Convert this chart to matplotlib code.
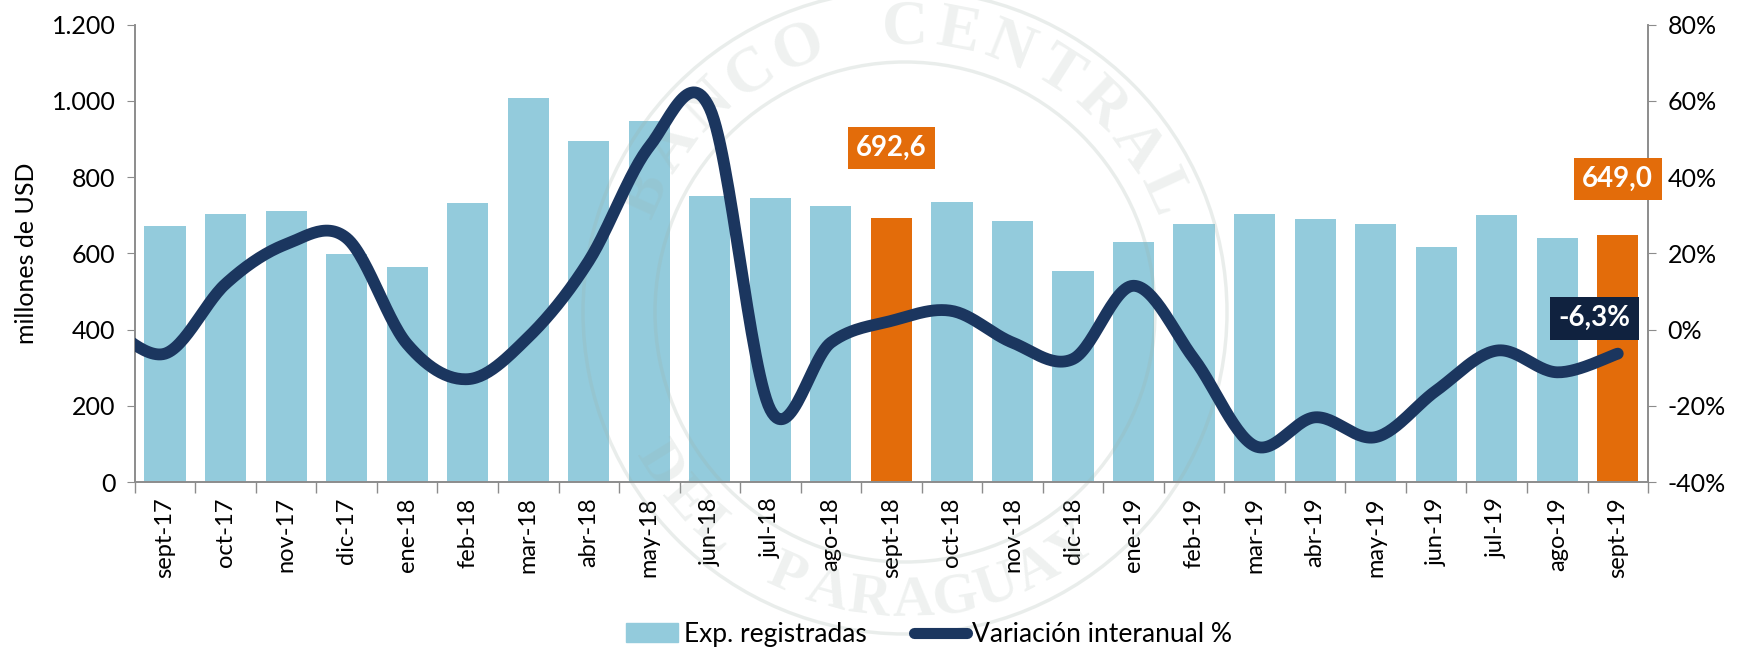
import matplotlib
matplotlib.use("Agg")
import matplotlib.pyplot as plt
import numpy as np
from matplotlib.lines import Line2D
from matplotlib.patches import Patch, Circle
from matplotlib.ticker import FuncFormatter

plt.rcParams['font.family'] = ['Lato', 'DejaVu Sans']

# datos
meses = ["sept-17", "oct-17", "nov-17", "dic-17", "ene-18", "feb-18", "mar-18",
         "abr-18", "may-18", "jun-18", "jul-18", "ago-18", "sept-18", "oct-18",
         "nov-18", "dic-18", "ene-19", "feb-19", "mar-19", "abr-19", "may-19",
         "jun-19", "jul-19", "ago-19", "sept-19"]
exportaciones = [671, 702, 712, 599, 565, 733, 1008, 896, 948, 751, 746, 724,
                 692.6, 736, 686, 555, 631, 676, 703, 690, 678, 616, 700, 639,
                 649.0]
# variacion interanual (%), el primer valor es ago-17 (fuera del grafico)
variacion = [2, -6.3, 12, 22.4, 24, -3.8, -13, -2, 18, 48, 58, -21, -3.4, 2.3,
             4.9, -3.4, -7.7, 11.5, -7.7, -30.5, -23, -28.2, -16, -5.5, -11.2,
             -6.3]
destacados = ["sept-18", "sept-19"]

celeste = "#93CBDC"
naranja = "#E36C0A"
azul = "#1B365F"
gris = "#8C8C8C"


def suavizar(x, y, n=30):
    # curva suavizada tipo Excel (Catmull-Rom)
    x = np.asarray(x, float)
    y = np.asarray(y, float)
    px = np.concatenate([[x[0]], x, [x[-1]]])
    py = np.concatenate([[y[0]], y, [y[-1]]])
    xs, ys = [], []
    t = np.linspace(0, 1, n)
    for i in range(1, len(px) - 2):
        p0, p1, p2, p3 = (np.array([px[j], py[j]]) for j in (i - 1, i, i + 1, i + 2))
        c1 = p1 + (p2 - p0) / 6
        c2 = p2 - (p3 - p1) / 6
        b = ((1 - t) ** 3)[:, None] * p1 + (3 * (1 - t) ** 2 * t)[:, None] * c1 \
            + (3 * (1 - t) * t ** 2)[:, None] * c2 + (t ** 3)[:, None] * p2
        xs.extend(b[:, 0])
        ys.extend(b[:, 1])
    return np.array(xs), np.array(ys)


def texto_arco(axw, texto, cx, cy, r, ang0, paso, arriba=True, **kw):
    for k, c in enumerate(texto):
        a = np.deg2rad(ang0 + paso * k)
        rot = np.rad2deg(a) - 90 if arriba else np.rad2deg(a) + 90
        axw.text(cx + r * np.cos(a), cy + r * np.sin(a), c, rotation=rot,
                 ha="center", va="center", rotation_mode="anchor", **kw)


fig = plt.figure(figsize=(17.46, 6.48), dpi=100)
ax = fig.add_axes([0.0772, 0.256, 0.8667, 0.706])

# marca de agua (sello)
wm = fig.add_axes([0, 0, 1, 1])
wm.set_xlim(0, 1746)
wm.set_ylim(0, 648)
wm.axis("off")
wm.patch.set_visible(False)
cwm = "#9FB0A8"
cx, cy = 905, 648 - 312
for rr in (250, 322):
    wm.add_patch(Circle((cx, cy), rr, fill=False, ec=cwm, lw=2.5, alpha=0.22))
texto_arco(wm, "BANCO CENTRAL", cx, cy, 284, 155.5, -10.9, arriba=True,
           family="Liberation Serif", fontsize=46, fontweight="bold",
           color=cwm, alpha=0.17)
texto_arco(wm, "DEL PARAGUAY", cx, cy, 290, 212, 8.5, arriba=False,
           family="Liberation Serif", fontsize=42, fontweight="bold",
           color=cwm, alpha=0.17)

ax2 = ax.twinx()
ax.patch.set_visible(False)

x = np.arange(len(meses))
colores = [naranja if m in destacados else celeste for m in meses]
ax.bar(x, exportaciones, width=0.68, color=colores, zorder=2)

xl = np.arange(-1, len(meses))
sx, sy = suavizar(xl, variacion)
ax2.plot(sx, sy, color=azul, lw=8.5, solid_capstyle="round", zorder=3)

ax.set_xlim(-0.5, len(meses) - 0.5)
ax.set_ylim(0, 1200)
ax.set_yticks(range(0, 1201, 200))
ax.yaxis.set_major_formatter(FuncFormatter(lambda v, p: f"{int(v):,}".replace(",", ".")))
ax2.set_ylim(-40, 80)
ax2.set_yticks(range(-40, 81, 20))
ax2.yaxis.set_major_formatter(FuncFormatter(lambda v, p: f"{int(v)}%"))

ax.set_xticks(np.arange(-0.5, len(meses), 1))
ax.set_xticklabels([])
ax.set_xticks(x, minor=True)
ax.set_xticklabels(meses, minor=True, rotation=90, fontsize=17)
ax.tick_params(axis="x", which="major", length=8, color=gris, width=1)
ax.tick_params(axis="x", which="minor", length=0, pad=11)
ax.tick_params(axis="y", length=6, color=gris, labelsize=18, pad=8)
ax2.tick_params(axis="y", length=6, color=gris, labelsize=18, pad=8)

for a in (ax, ax2):
    a.spines["top"].set_visible(False)
    for s in ("left", "right", "bottom"):
        a.spines[s].set_color(gris)
        a.spines[s].set_linewidth(1.2)

ax.set_ylabel("millones de USD", fontsize=18, labelpad=10)

# etiquetas
i18 = meses.index("sept-18")
i19 = meses.index("sept-19")
caja = dict(boxstyle="square,pad=0.3", ec="none")
ax2.text(i18, 876, f"{exportaciones[i18]:.1f}".replace(".", ","), transform=ax.transData,
         ha="center", va="center", color="white", fontsize=20, fontweight="bold",
         bbox=dict(caja, fc=naranja), zorder=5)
ax2.text(i19, 795, f"{exportaciones[i19]:.1f}".replace(".", ","), transform=ax.transData,
         ha="center", va="center", color="white", fontsize=20, fontweight="bold",
         bbox=dict(caja, fc=naranja), zorder=5, clip_on=False)
ax2.text(i19 - 0.38, 3, f"{variacion[-1]:.1f}%".replace(".", ","),
         ha="center", va="center", color="white", fontsize=20, fontweight="bold",
         bbox=dict(caja, fc="#10223F"), zorder=5)

handles = [Patch(color=celeste),
           Line2D([0], [0], color=azul, lw=8, solid_capstyle="round")]
fig.legend(handles, ["Exp. registradas", "Variación interanual %"], loc="lower center",
           bbox_to_anchor=(0.532, -0.035), ncol=2, frameon=False, fontsize=19,
           handlelength=2.0, handletextpad=0.2, columnspacing=1.8)

fig.savefig("out.png", dpi=100)
